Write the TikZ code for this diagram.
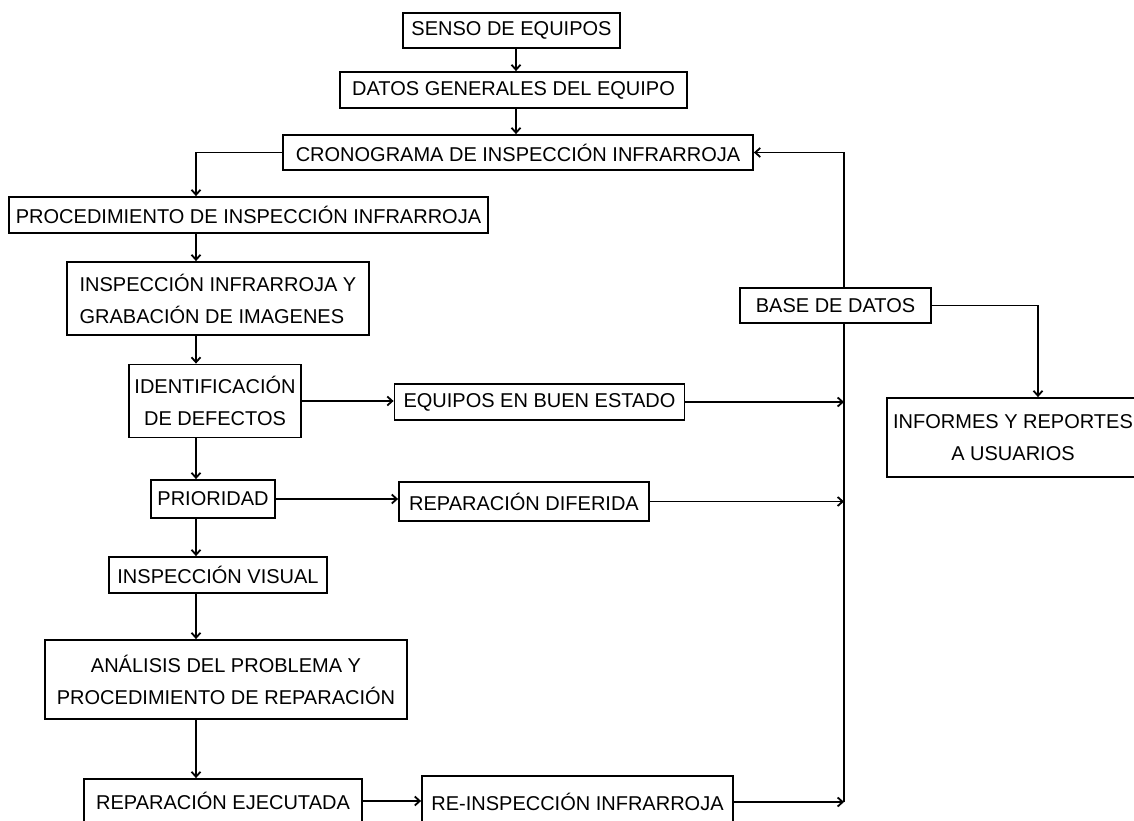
\documentclass[tikz,border=0pt]{standalone}
\usepackage{fontspec}
\setmainfont{Liberation Sans}
\usetikzlibrary{arrows.meta}

\begin{document}
\begin{tikzpicture}[x=1pt,y=-1pt,line width=1.8pt,
    caja/.style={draw,inner sep=0pt,align=center,font=\fontsize{20}{32}\selectfont},
    flecha/.style={-{Straight Barb[length=5pt,width=9pt]}}]
  \useasboundingbox (0,0) rectangle (1134,821);

  \coordinate(arriba) at (516,0);
  \coordinate(eje) at (196,0);
  \coordinate(bus) at (844,0);
  \coordinate(baja) at (1038,0);

  \node[caja,minimum width=217,minimum height=35](senso) at (511.5,30.5) {SENSO DE EQUIPOS};
  \node[caja,minimum width=347,minimum height=36](datos) at (513.5,90) {DATOS GENERALES DEL EQUIPO};
  \node[caja,minimum width=470,minimum height=35](crono) at (518,152.5) {CRONOGRAMA DE INSPECCIÓN INFRARROJA};
  \node[caja,minimum width=479,minimum height=36](proc) at (248.5,215) {PROCEDIMIENTO DE INSPECCIÓN INFRARROJA};
  \node[caja,align=left,minimum width=302,minimum height=73](insp) at (218,298.5) {INSPECCIÓN INFRARROJA Y\\GRABACIÓN DE IMAGENES};
  \node[caja,minimum width=172,minimum height=73](ident) at (215,401) {IDENTIFICACIÓN\\DE DEFECTOS};
  \node[caja,minimum width=290,minimum height=36](buen) at (539.5,402) {EQUIPOS EN BUEN ESTADO};
  \node[caja,minimum width=124,minimum height=38](prio) at (213,499) {PRIORIDAD};
  \node[caja,minimum width=250,minimum height=39](dif) at (524,501.5) {REPARACIÓN DIFERIDA};
  \node[caja,minimum width=218,minimum height=36](visual) at (218,575) {INSPECCIÓN VISUAL};
  \node[caja,minimum width=362,minimum height=79](anal) at (226,679.5) {ANÁLISIS DEL PROBLEMA Y\\PROCEDIMIENTO DE REPARACIÓN};
  \node[caja,minimum width=278,minimum height=44](ejec) at (223,801) {REPARACIÓN EJECUTADA};
  \node[caja,minimum width=311,minimum height=52](reinsp) at (577.5,802) {RE-INSPECCIÓN INFRARROJA};
  \node[caja,minimum width=191,minimum height=35](base) at (835.5,305.5) {BASE DE DATOS};
  \node[caja,minimum width=252,minimum height=79](inf) at (1013,437.5) {INFORMES Y REPORTES\\A USUARIOS};

  \draw[flecha] (senso.south -| arriba) -- (datos.north -| arriba);
  \draw[flecha] (datos.south -| arriba) -- (crono.north -| arriba);
  \draw[flecha] (crono.west) -| (proc.north -| eje);
  \draw[flecha] (proc.south -| eje) -- (insp.north -| eje);
  \draw[flecha] (insp.south -| eje) -- (ident.north -| eje);
  \draw[flecha] (ident.south -| eje) -- (prio.north -| eje);
  \draw[flecha] (prio.south -| eje) -- (visual.north -| eje);
  \draw[flecha] (visual.south -| eje) -- (anal.north -| eje);
  \draw[flecha] (anal.south -| eje) -- (ejec.north -| eje);

  \draw[flecha] (ident.east) -- (ident.east -| buen.west);
  \draw[flecha] (prio.east) -- (prio.east -| dif.west);
  \draw[flecha] (ejec.east) -- (ejec.east -| reinsp.west);

  \draw[flecha] (buen.east) -- (buen.east -| bus);
  \draw[flecha] (dif.east) -- (dif.east -| bus);
  \draw[flecha] (reinsp.east) -- (reinsp.east -| bus);

  \draw (reinsp.east -| bus) -- (base.south -| bus);
  \draw[flecha] (base.north -| bus) |- (crono.east);
  \draw[flecha] (base.east) -| (inf.north -| baja);
\end{tikzpicture}
\end{document}
